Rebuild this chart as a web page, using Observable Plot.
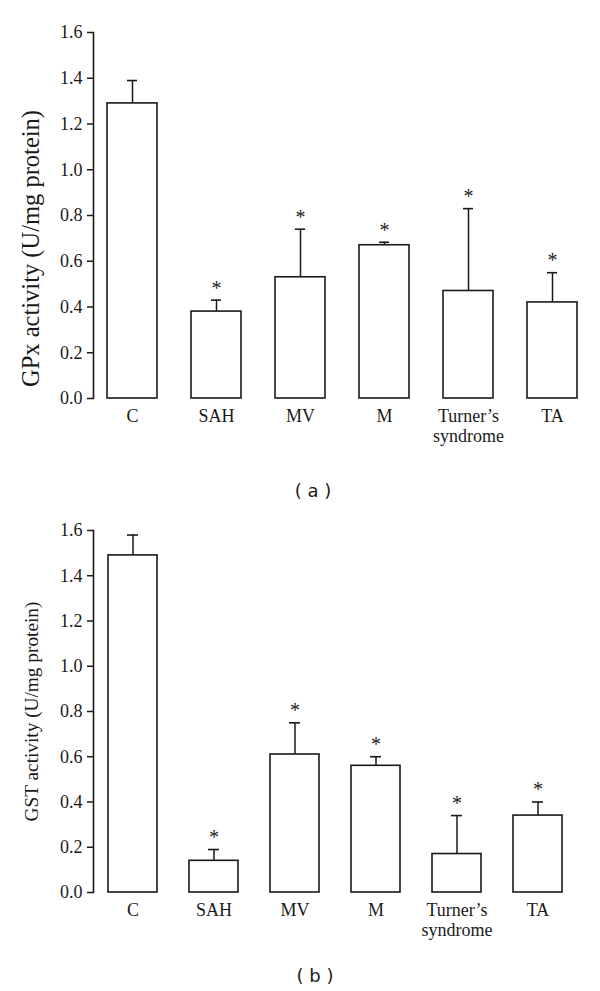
<!DOCTYPE html>
<html>
<head>
<meta charset="utf-8">
<script src="https://cdn.jsdelivr.net/npm/d3@7"></script>
<script src="https://cdn.jsdelivr.net/npm/@observablehq/plot@0.6"></script>
<style>
  html, body { margin: 0; padding: 0; background: #fff; }
  #page { width: 600px; height: 991px; position: relative; overflow: hidden; }
  .cap { position: absolute; left: 0; width: 600px; text-align: center; font-family: "DejaVu Sans", sans-serif; font-size: 18px; color: #1a1a1a; white-space: pre; }
  svg { display: block; }
  #page svg text { font-family: "Liberation Serif", "Times New Roman", serif; }
</style>
</head>
<body>
<div id="page">
  <div id="chartA" style="position:absolute;left:0;top:0;"></div>
  <div class="cap" id="capA" style="top:480px;left:13px;">( a )</div>
  <div id="chartB" style="position:absolute;left:0;top:514px;"></div>
  <div class="cap" id="capB" style="top:965px;left:15px;">( b )</div>
</div>
<script>
// ---- data ----
const groups = ["C", "SAH", "MV", "M", "Turner\u2019s\nsyndrome", "TA"];
const gpxMean = [1.29, 0.38, 0.53, 0.67, 0.47, 0.42];
const gpxErr  = [0.10, 0.05, 0.21, 0.013, 0.36, 0.13];
const gstMean = [1.49, 0.14, 0.61, 0.56, 0.17, 0.34];
const gstErr  = [0.09, 0.05, 0.14, 0.04, 0.17, 0.06];
const significant = [false, true, true, true, true, true];
const yTicks = [0, 0.2, 0.4, 0.6, 0.8, 1.0, 1.2, 1.4, 1.6];
const gpxLabel = "GPx activity (U/mg protein)";
const gstLabel = "GST activity (U/mg protein)";

function rows(means, errs) {
  return groups.map((g, i) => ({name: g, mean: means[i], hi: means[i] + errs[i], sig: significant[i]}));
}

function chart(data, opts) {
  return Plot.plot({
    width: 600,
    height: opts.height,
    marginTop: opts.marginTop,
    marginBottom: opts.marginBottom,
    marginLeft: 93,
    marginRight: opts.marginRight,
    x: {domain: groups, paddingInner: 0.4, paddingOuter: opts.paddingOuter, label: null},
    y: {domain: [0, 1.6], label: null},
    style: {fontFamily: "'Liberation Serif', 'Times New Roman', serif", fontSize: "18px", background: "white", color: "#1a1a1a", overflow: "visible"},
    marks: [
      Plot.frame({anchor: "left", strokeWidth: 1.6}),
      Plot.axisY({ticks: yTicks, tickFormat: d => d.toFixed(1), tickSize: 6, tickPadding: 5, strokeWidth: 1.5, fontSize: 18, label: null}),
      Plot.axisX({tickSize: 0, tickPadding: 9, lineHeight: 1.12, fontSize: 18, label: null}),
      Plot.ruleX(data, {x: "name", y1: "mean", y2: "hi", strokeWidth: 1.5}),
      Plot.tickY(data, {x: "name", y: "hi", insetLeft: opts.capInset, insetRight: opts.capInset, strokeWidth: 1.6}),
      Plot.barY(data, {x: "name", y: "mean", fill: "white", stroke: "#1a1a1a", strokeWidth: 1.6}),
      Plot.text(data.filter(d => d.sig), {x: "name", y: "hi", text: () => "*", dy: -12, fontSize: 20}),
      Plot.text([opts.label], {text: d => d, frameAnchor: "left", rotate: -90, dx: -62, dy: opts.labelDy, fontSize: opts.labelSize, textAnchor: "middle"})
    ]
  });
}

document.getElementById("chartA").appendChild(chart(rows(gpxMean, gpxErr), {
  height: 470, marginTop: 32, marginBottom: 72, marginRight: 9, paddingOuter: 0.14, capInset: 20,
  label: gpxLabel, labelDy: 33, labelSize: 24.5
}));
document.getElementById("chartB").appendChild(chart(rows(gstMean, gstErr), {
  height: 451, marginTop: 16, marginBottom: 73, marginRight: 23, paddingOuter: 0.185, capInset: 19,
  label: gstLabel, labelDy: 0, labelSize: 19.3
}));
</script>
</body>
</html>
